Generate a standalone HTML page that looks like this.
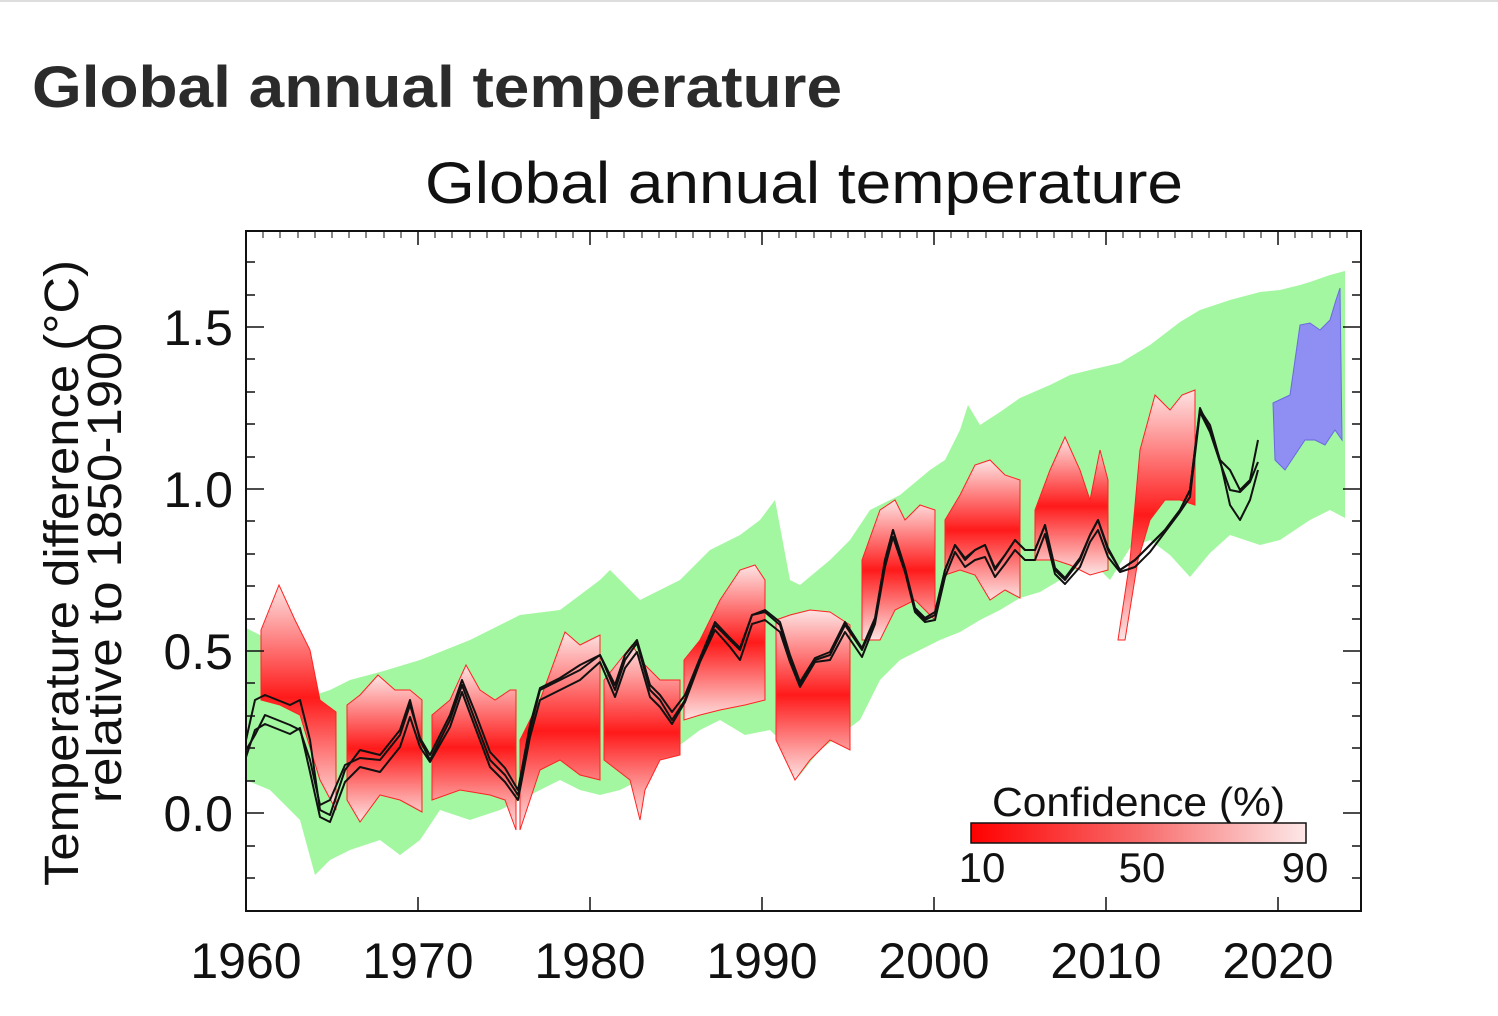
<!DOCTYPE html>
<html><head><meta charset="utf-8"><style>
html,body{margin:0;padding:0;background:#fff;width:1498px;height:1016px;overflow:hidden}
</style></head><body>
<svg width="1498" height="1016" viewBox="0 0 1498 1016" xmlns="http://www.w3.org/2000/svg" font-family="Liberation Sans, sans-serif">
<defs>
<linearGradient id="rg" x1="0" y1="0" x2="0" y2="1">
<stop offset="0" stop-color="#fde4e4"/><stop offset="0.5" stop-color="#ff1a1a"/><stop offset="1" stop-color="#fde4e4"/>
</linearGradient>
<linearGradient id="cb" x1="0" y1="0" x2="1" y2="0">
<stop offset="0" stop-color="#ff0000"/><stop offset="0.5" stop-color="#f86a6a"/><stop offset="1" stop-color="#fde8e8"/>
</linearGradient>
</defs>
<rect x="0" y="0" width="1498" height="2" fill="#ddd"/>
<text x="32" y="107" font-size="58" font-weight="bold" fill="#2b2b2b" textLength="810" lengthAdjust="spacingAndGlyphs">Global annual temperature</text>
<text x="425" y="203" font-size="58" fill="#111" textLength="758" lengthAdjust="spacingAndGlyphs">Global annual temperature</text>

<g>
<polygon fill="#a3f7a0" points="246,628 270,640 300,700 330,690 350,680 380,672 420,660 470,640 520,615 560,610 600,580 610,570 640,600 680,580 700,560 710,550 740,535 760,520 775,500 790,580 800,585 830,560 850,540 870,510 900,495 930,470 945,460 960,430 968,405 980,425 1000,412 1020,398 1050,385 1070,375 1090,370 1120,363 1150,345 1180,322 1200,310 1230,300 1260,292 1280,290 1300,285 1310,282 1330,275 1345,271 1345,518 1330,510 1310,520 1280,540 1260,545 1230,535 1210,553 1190,577 1170,555 1150,540 1130,548 1110,580 1090,560 1060,580 1040,592 1020,598 1000,610 980,620 960,632 940,640 920,650 900,660 880,680 870,700 860,720 840,735 820,750 800,775 790,750 770,730 745,735 720,720 700,730 680,745 660,760 640,780 620,790 600,795 580,790 560,780 540,790 520,800 500,810 470,820 440,810 420,840 400,855 380,840 350,850 330,860 315,875 300,820 270,790 246,780"/>
<g fill="url(#rg)" stroke="#f22" stroke-width="1">
<polygon points="261,630 279,585 295,620 310,650 320,700 336,712 336,810 320,780 300,715 280,705 261,700"/>
<polygon points="347,705 360,695 378,675 395,690 410,690 422,700 422,812 400,800 380,795 360,822 347,800"/>
<polygon points="432,715 450,700 466,665 480,690 495,700 510,690 516,690 516,830 505,800 490,795 460,790 432,800"/>
<polygon points="520,740 540,700 565,632 580,645 590,640 600,635 600,780 580,775 560,760 540,770 520,830"/>
<polygon points="604,680 620,660 632,645 645,665 660,680 680,680 680,755 660,760 645,790 640,820 630,780 604,760"/>
<polygon points="684,660 700,640 720,600 740,570 755,565 765,580 765,700 745,705 720,710 700,715 684,720"/>
<polygon points="776,620 790,615 810,610 830,612 850,625 850,750 830,740 810,760 795,780 776,740"/>
<polygon points="862,560 880,510 895,500 905,520 920,505 935,510 935,620 915,600 895,610 880,640 862,640"/>
<polygon points="945,520 960,495 975,465 990,460 1005,475 1020,480 1020,598 1005,590 990,600 975,575 960,570 945,575"/>
<polygon points="1035,510 1050,470 1065,437 1080,470 1090,500 1100,450 1108,480 1108,570 1090,575 1070,565 1055,560 1035,560"/>
<polygon points="1118,640 1130,560 1140,450 1155,395 1170,410 1182,395 1195,390 1195,505 1180,500 1165,500 1150,520 1138,560 1125,640"/>
</g>
<polygon fill="#8f8ef2" stroke="#6a6ae0" stroke-width="1" points="1273,403 1290,395 1300,325 1310,323 1320,330 1330,320 1336,300 1340,288 1342,440 1335,430 1325,445 1315,440 1305,440 1295,455 1285,470 1275,460"/>
<g fill="none" stroke="#111" stroke-width="2" stroke-linejoin="round">
<polyline points="246,740 255,700 265,695 290,705 300,700 310,740 320,810 330,815 345,770 360,750 380,755 400,730 410,700 420,740 430,760 450,720 462,685 475,720 490,760 505,775 518,795 530,730 540,690 560,680 580,670 600,655 615,690 625,660 637,643 650,690 660,700 672,720 685,700 700,660 715,625 730,640 740,650 752,615 765,612 780,625 790,660 800,685 815,660 830,655 845,625 862,650 875,620 885,560 893,530 905,570 915,610 925,620 935,615 945,570 955,545 965,560 975,550 985,545 995,570 1005,555 1015,540 1025,550 1035,550 1045,525 1055,570 1065,580 1080,560 1090,535 1098,520 1108,550 1120,570 1135,560 1150,545 1165,530 1180,510 1190,490 1200,410 1210,425 1220,460 1230,470 1240,490 1250,480 1258,440"/>
<polyline transform="translate(0,12)" points="246,745 255,718 265,712 290,722 300,716 310,760 320,805 330,810 345,770 360,755 380,760 400,735 410,705 420,735 430,750 450,715 462,680 475,715 490,755 505,770 518,788 530,725 540,688 560,678 580,668 600,650 615,685 625,656 637,640 650,685 660,695 672,712 685,690 700,650 715,618 730,635 740,648 752,612 765,608 780,620 790,650 800,675 815,650 830,648 845,620 862,645 875,612 885,555 893,525 905,560 915,600 925,610 935,608 945,565 955,540 965,555 975,548 985,545 995,565 1005,552 1015,538 1025,548 1035,548 1045,522 1055,562 1065,572 1080,555 1090,530 1098,518 1108,545 1120,560 1135,555 1150,540 1165,520 1180,500 1190,485 1200,400 1210,420 1220,450 1230,478 1240,480 1250,470 1258,450"/>
<polyline transform="translate(0,-10)" points="246,760 255,745 265,725 290,735 300,740 310,770 320,815 330,810 345,775 360,768 380,770 400,745 410,715 420,748 430,765 450,725 462,690 475,722 490,762 505,778 518,800 530,735 540,698 560,688 580,675 600,665 615,695 625,665 637,650 650,695 660,705 672,722 685,705 700,668 715,632 730,648 740,658 752,625 765,620 780,632 790,665 800,692 815,668 830,662 845,632 862,658 875,628 885,570 893,540 905,578 915,618 925,628 935,622 945,580 955,555 965,568 975,560 985,555 995,578 1005,565 1015,550 1025,560 1035,560 1045,535 1055,578 1065,588 1080,568 1090,545 1098,530 1108,558 1120,580 1135,570 1150,555 1165,540 1180,520 1190,500 1200,418 1210,440 1220,470 1230,515 1240,530 1250,510 1258,480"/>
</g>
</g>

<rect x="246" y="231" width="1115" height="680" fill="none" stroke="#111" stroke-width="2"/>
<g stroke="#111" stroke-width="1.5">
<path d="M246,327h18M246,489h18M246,651h18M246,813h18M1361,327h-18M1361,489h-18M1361,651h-18M1361,813h-18"/>
<path d="M246,262h9M246,295h9M246,359h9M246,392h9M246,424h9M246,457h9M246,521h9M246,554h9M246,586h9M246,619h9M246,683h9M246,716h9M246,748h9M246,781h9M246,846h9M246,878h9
M1361,262h-9M1361,295h-9M1361,359h-9M1361,392h-9M1361,424h-9M1361,457h-9M1361,521h-9M1361,554h-9M1361,586h-9M1361,619h-9M1361,683h-9M1361,716h-9M1361,748h-9M1361,781h-9M1361,846h-9M1361,878h-9"/>
<path d="M418,231v14M590,231v14M762,231v14M934,231v14M1106,231v14M1278,231v14M418,911v-14M590,911v-14M762,911v-14M934,911v-14M1106,911v-14M1278,911v-14"/>
</g>
<g stroke="#111" stroke-width="1">
<path d="M263,231v7M280,231v7M298,231v7M315,231v7M332,231v7M349,231v7M366,231v7M384,231v7M401,231v7M435,231v7M452,231v7M470,231v7M487,231v7M504,231v7M521,231v7M538,231v7M556,231v7M573,231v7M607,231v7M624,231v7M642,231v7M659,231v7M676,231v7M693,231v7M710,231v7M728,231v7M745,231v7M779,231v7M796,231v7M814,231v7M831,231v7M848,231v7M865,231v7M882,231v7M900,231v7M917,231v7M951,231v7M968,231v7M986,231v7M1003,231v7M1020,231v7M1037,231v7M1054,231v7M1072,231v7M1089,231v7M1123,231v7M1140,231v7M1158,231v7M1175,231v7M1192,231v7M1209,231v7M1226,231v7M1244,231v7M1261,231v7M1295,231v7M1312,231v7M1330,231v7M1347,231v7"/>
</g>

<g font-size="50" fill="#111" text-anchor="end">
<text x="233" y="345">1.5</text><text x="233" y="507">1.0</text><text x="233" y="669">0.5</text><text x="233" y="831">0.0</text>
</g>
<g font-size="50" fill="#111" text-anchor="middle">
<text x="246" y="978">1960</text><text x="418" y="978">1970</text><text x="590" y="978">1980</text><text x="762" y="978">1990</text><text x="934" y="978">2000</text><text x="1106" y="978">2010</text><text x="1278" y="978">2020</text>
</g>
<g font-size="48" fill="#111">
<text transform="translate(78,886) rotate(-90)" textLength="626" lengthAdjust="spacingAndGlyphs">Temperature difference (°C)</text>
<text transform="translate(121,803) rotate(-90)" textLength="480" lengthAdjust="spacingAndGlyphs">relative to 1850-1900</text>
</g>

<text x="992" y="816" font-size="41" fill="#111" textLength="293" lengthAdjust="spacingAndGlyphs">Confidence (%)</text>
<rect x="971" y="823" width="335" height="20" fill="url(#cb)" stroke="#111" stroke-width="1.5"/>
<g font-size="42" fill="#111" text-anchor="middle">
<text x="982" y="882">10</text><text x="1142" y="882">50</text><text x="1305" y="882">90</text>
</g>
</svg>
</body></html>
